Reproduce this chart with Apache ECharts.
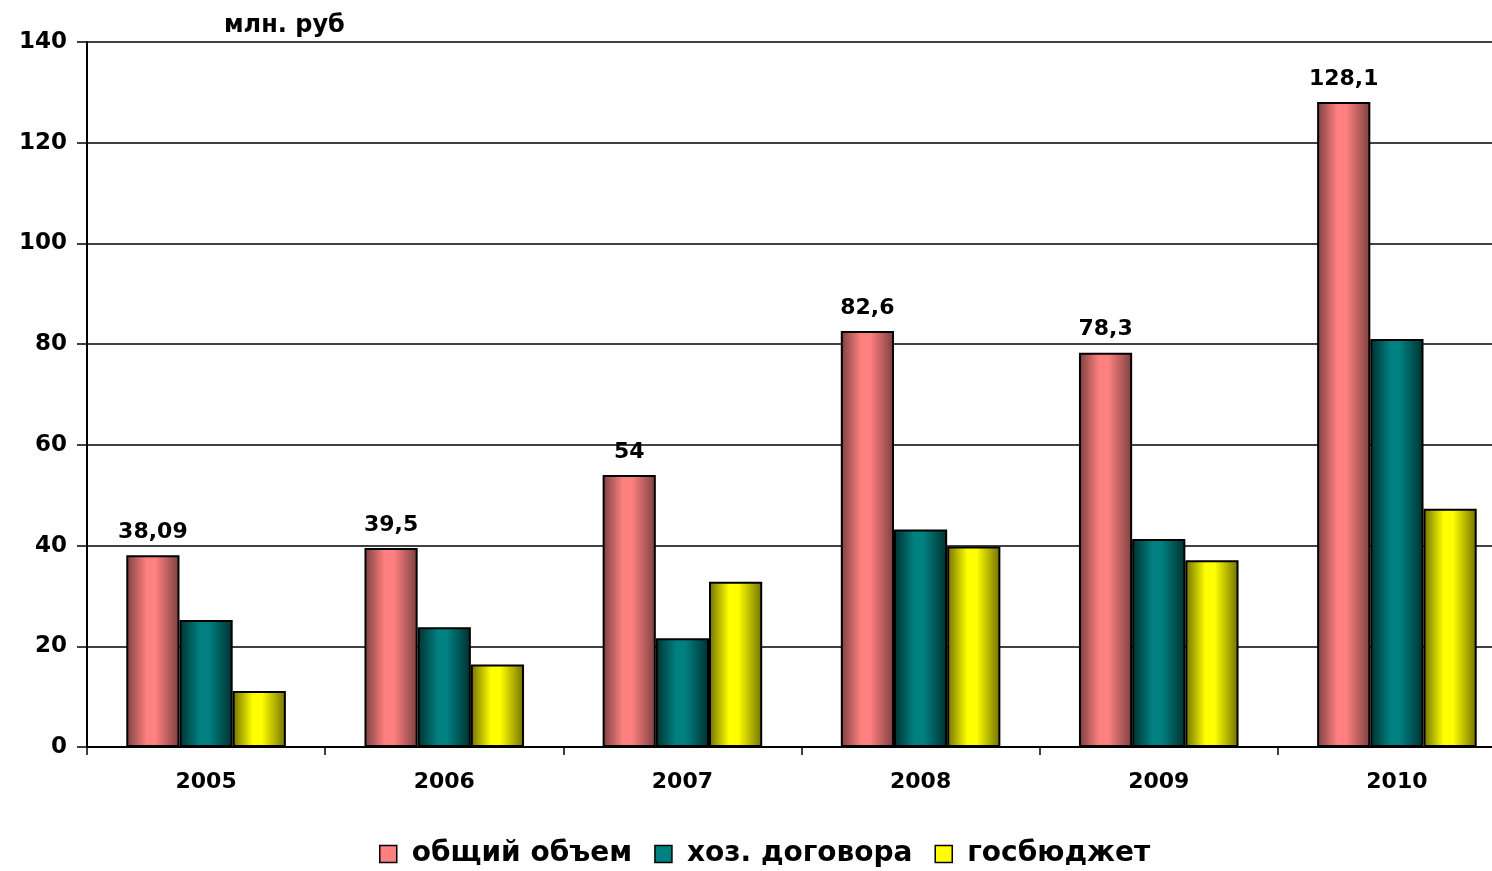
<!DOCTYPE html>
<html><head><meta charset="utf-8">
<script src="https://cdn.jsdelivr.net/npm/echarts@6/dist/echarts.min.js"></script>
<style>html,body{margin:0;padding:0;background:#fff;overflow:hidden}#c{width:1516px;height:871px}</style>
</head><body><div id="c"></div>
<script>
var categories = ['2005','2006','2007','2008','2009','2010'];
var totalVolume = [38.09, 39.5, 54, 82.6, 78.3, 128.1];
var contracts = [25.2, 23.8, 21.6, 43.2, 41.3, 81.0];
var stateBudget = [11.1, 16.4, 32.8, 39.8, 37.1, 47.3];
var totalLabels = ['38,09','39,5','54','82,6','78,3','128,1'];
var seriesNames = ['общий объем','хоз. договора','госбюджет'];
var unitLabel = 'млн. руб';

var FONT = 'DejaVu Sans';
function grad(dark, bright) {
  return new echarts.graphic.LinearGradient(0,0,1,0,[
    {offset:0,color:dark},{offset:0.38,color:bright},{offset:0.55,color:bright},{offset:1,color:dark}
  ]);
}
var chart = echarts.init(document.getElementById('c'));
chart.setOption({
  animation:false,
  title:{text:unitLabel,left:219,top:9,textStyle:{fontFamily:FONT,fontWeight:'bold',fontSize:24,color:'#000'}},
  legend:{
    bottom:-2,left:374,itemWidth:17,itemHeight:17,itemGap:22,
    textStyle:{fontFamily:FONT,fontWeight:'bold',fontSize:28,color:'#000',padding:[0,0,0,10]},
    data:[
      {name:seriesNames[0],icon:'rect',itemStyle:{color:'#FF8080',borderColor:'#000',borderWidth:1.5}},
      {name:seriesNames[1],icon:'rect',itemStyle:{color:'#008080',borderColor:'#000',borderWidth:1.5}},
      {name:seriesNames[2],icon:'rect',itemStyle:{color:'#FFFF00',borderColor:'#000',borderWidth:1.5}}
    ]
  },
  grid:{left:87,top:42,bottom:124,right:0,containLabel:false},
  xAxis:{
    type:'category',data:categories,
    axisLine:{lineStyle:{color:'#000',width:2}},
    axisTick:{show:true,length:8,interval:0,lineStyle:{color:'#000',width:1.5}},
    axisLabel:{margin:24,fontFamily:FONT,fontWeight:'bold',fontSize:22,color:'#000'}
  },
  yAxis:{
    type:'value',min:0,max:140,interval:20,
    axisLine:{show:true,lineStyle:{color:'#000',width:2}},
    axisTick:{show:true,length:10,lineStyle:{color:'#000',width:1.5}},
    axisLabel:{margin:20,fontFamily:FONT,fontWeight:'bold',fontSize:23,color:'#000'},
    splitLine:{lineStyle:{color:'#000',width:1.5}}
  },
  series:[
    {name:seriesNames[0],type:'bar',data:totalVolume,barGap:'0%',barCategoryGap:'33%',
     itemStyle:{color:grad('#7a3f3f','#FF8080'),borderColor:'#000',borderWidth:2},
     label:{show:true,position:'top',distance:12,fontFamily:FONT,fontWeight:'bold',fontSize:22,color:'#000',
       formatter:function(p){return totalLabels[p.dataIndex];}}},
    {name:seriesNames[1],type:'bar',data:contracts,
     itemStyle:{color:grad('#003030','#008080'),borderColor:'#000',borderWidth:2}},
    {name:seriesNames[2],type:'bar',data:stateBudget,
     itemStyle:{color:grad('#707000','#FFFF00'),borderColor:'#000',borderWidth:2}}
  ]
});
</script></body></html>
